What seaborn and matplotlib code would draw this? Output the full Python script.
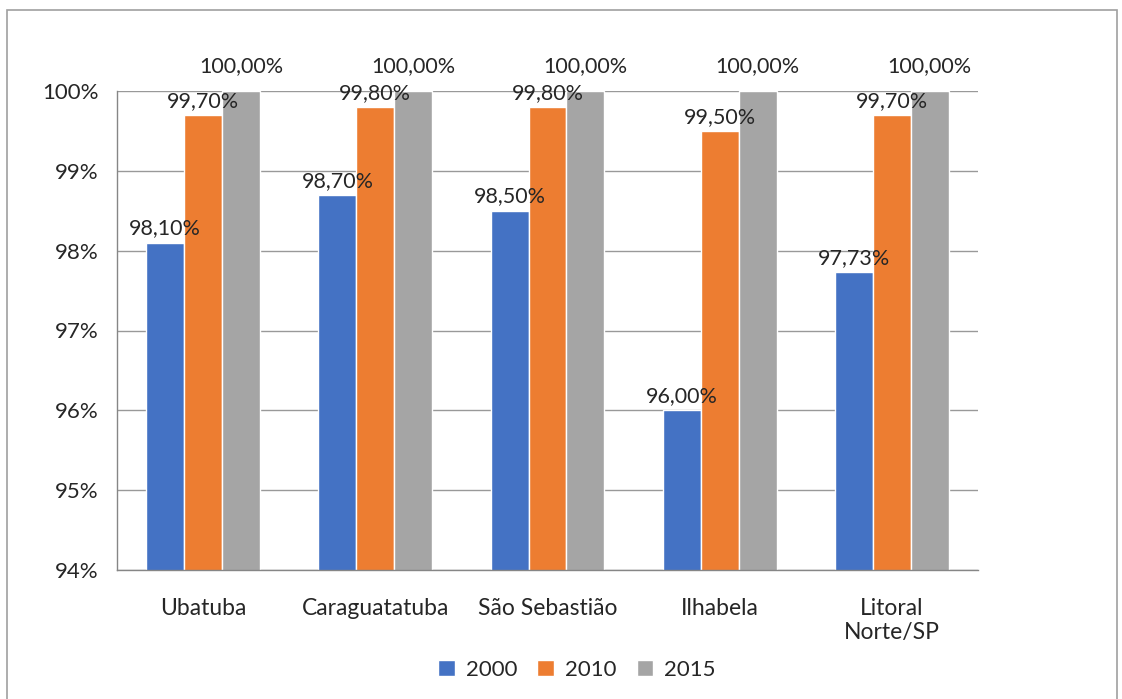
import pandas as pd
import matplotlib.pyplot as plt
import seaborn as sns
from matplotlib.patches import Rectangle

# valores (%)
locais = ['Ubatuba', 'Caraguatatuba', 'São Sebastião', 'Ilhabela', 'Litoral\nNorte/SP']
anos = ['2000', '2010', '2015']
v2000 = [98.10, 98.70, 98.50, 96.00, 97.73]
v2010 = [99.70, 99.80, 99.80, 99.50, 99.70]
v2015 = [100.00, 100.00, 100.00, 100.00, 100.00]
cores = ['#4472C4', '#ED7D31', '#A5A5A5']

df = pd.DataFrame({
    'local': locais * 3,
    'ano': [a for a in anos for _ in locais],
    'valor': v2000 + v2010 + v2015,
})

sns.set_style('white')
plt.rcParams['font.family'] = ['Lato', 'DejaVu Sans']

fig = plt.figure(figsize=(11.22, 6.99), dpi=100)
ax = fig.add_axes([117 / 1122, 1 - 570 / 699, 861 / 1122, 479 / 699])

sns.barplot(data=df, x='local', y='valor', hue='ano', palette=cores,
            width=0.66, gap=0, ax=ax, legend=True, saturation=1)

ax.set_ylim(94, 100)
ax.set_xlim(-0.5, 4.5)
ax.set_yticks(range(94, 101))
ax.set_yticklabels([f'{t}%' for t in range(94, 101)], fontsize=16)
ax.set_xticks(range(5))
ax.set_xticklabels(locais, fontsize=16.5)
ax.tick_params(axis='x', length=0, pad=20)
ax.set_xticks([i - 0.5 for i in range(6)], minor=True)
ax.tick_params(axis='x', which='minor', length=8, color='#868686', width=1)
ax.tick_params(axis='y', length=9, color='#868686', width=1, pad=4)
ax.set_xlabel('')
ax.set_ylabel('')

ax.grid(axis='y', color='#999999', linewidth=1)
ax.set_axisbelow(True)
for s in ['top', 'right']:
    ax.spines[s].set_visible(False)
for s in ['left', 'bottom']:
    ax.spines[s].set_color('#868686')
    ax.spines[s].set_linewidth(1)

# rótulos de dados
paddings = [3, 3, 11]
for cont, pad in zip(ax.containers, paddings):
    labels = [f'{b.get_height():.2f}%'.replace('.', ',') for b in cont]
    ax.bar_label(cont, labels=labels, padding=pad, fontsize=15.5, clip_on=False)

ax.legend(loc='center', bbox_to_anchor=(577 / 1122, 1 - 670 / 699),
          bbox_transform=fig.transFigure, ncol=3, frameon=False, fontsize=16,
          handlelength=0.75, handleheight=0.75, columnspacing=0.9, handletextpad=0.5)

fig.patches.append(Rectangle((7 / 1122, -0.05), 1110 / 1122, 1.05 - 10 / 699,
                             transform=fig.transFigure, fill=False,
                             edgecolor='#A0A0A0', linewidth=1.2))

fig.savefig('out.png', dpi=100)
